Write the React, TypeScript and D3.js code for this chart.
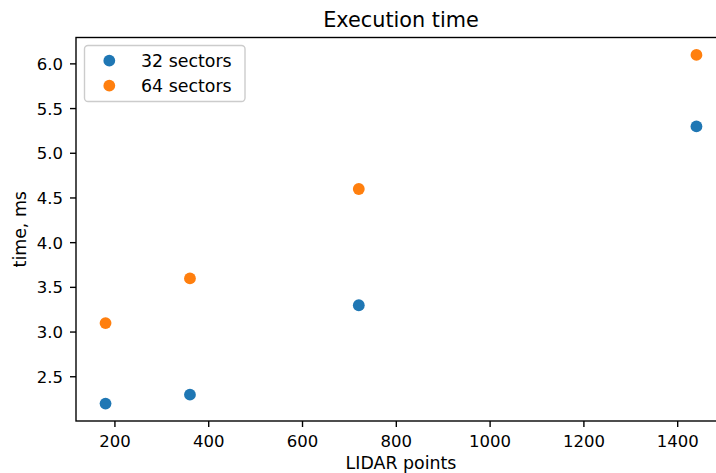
import React from "react";
import * as d3 from "d3";

const lidarPoints = [180, 360, 720, 1440];
const sectors32 = [2.2, 2.3, 3.3, 5.3];
const sectors64 = [3.1, 3.6, 4.6, 6.1];
const seriesNames = ["32 sectors", "64 sectors"];
const seriesColors = ["#1f77b4", "#ff7f0e"];
const xTicks = [200, 400, 600, 800, 1000, 1200, 1400];
const yTicks = [2.5, 3.0, 3.5, 4.0, 4.5, 5.0, 5.5, 6.0];

const W = 716;
const H = 473;
const left = 76;
const right = 726;
const top = 37.5;
const bottom = 421;
const font = "DejaVu Sans, sans-serif";
const tickFs = 16.5;
const labelFs = 17.4;

export default function App() {
  const [x0, x1] = d3.extent(lidarPoints) as [number, number];
  const xm = (x1 - x0) * 0.05;
  const allY = [...sectors32, ...sectors64];
  const [y0, y1] = d3.extent(allY) as [number, number];
  const ym = (y1 - y0) * 0.05;
  const x = d3.scaleLinear().domain([x0 - xm, x1 + xm]).range([left, right]);
  const y = d3.scaleLinear().domain([y0 - ym, y1 + ym]).range([bottom, top]);
  const series = [sectors32, sectors64];
  const cx = (left + right) / 2;

  return (
    <svg width={W} height={H} style={{ position: "absolute", left: 0, top: 0 }} fontFamily={font}>
      <rect width={W} height={H} fill="white" />
      {series.map((s, si) =>
        s.map((v, i) => (
          <circle key={`${si}-${i}`} cx={x(lidarPoints[i])} cy={y(v)} r={5.9} fill={seriesColors[si]} />
        ))
      )}
      <rect x={left} y={top} width={right - left} height={bottom - top} fill="none" stroke="black" strokeWidth={1.39} />
      {xTicks.map((t) => (
        <g key={t}>
          <line x1={x(t)} x2={x(t)} y1={bottom} y2={bottom + 6} stroke="black" strokeWidth={1.39} />
          <text x={x(t)} y={447.3} textAnchor="middle" fontSize={tickFs} fill="black">
            {t}
          </text>
        </g>
      ))}
      {yTicks.map((t) => (
        <g key={t}>
          <line x1={left - 6} x2={left} y1={y(t)} y2={y(t)} stroke="black" strokeWidth={1.39} />
          <text x={63} y={y(t)} dy="0.36em" textAnchor="end" fontSize={tickFs} fill="black">
            {t.toFixed(1)}
          </text>
        </g>
      ))}
      <text x={cx} y={468.5} textAnchor="middle" fontSize={labelFs} fill="black">
        LIDAR points
      </text>
      <text
        transform={`translate(25.5, ${(top + bottom) / 2}) rotate(-90)`}
        textAnchor="middle"
        fontSize={labelFs}
        fill="black"
      >
        time, ms
      </text>
      <text x={cx} y={26.7} textAnchor="middle" fontSize={20.8} fill="black">
        Execution time
      </text>
      <rect x={84.5} y={45.5} width={160.5} height={56} rx={3.5} fill="white" fillOpacity={0.8} stroke="#cccccc" strokeWidth={1.39} />
      {seriesNames.map((n, i) => (
        <g key={n}>
          <circle cx={109.3} cy={60.7 + i * 25} r={5.9} fill={seriesColors[i]} />
          <text x={141} y={60.7 + i * 25} dy="0.36em" fontSize={labelFs} fill="black">
            {n}
          </text>
        </g>
      ))}
    </svg>
  );
}
